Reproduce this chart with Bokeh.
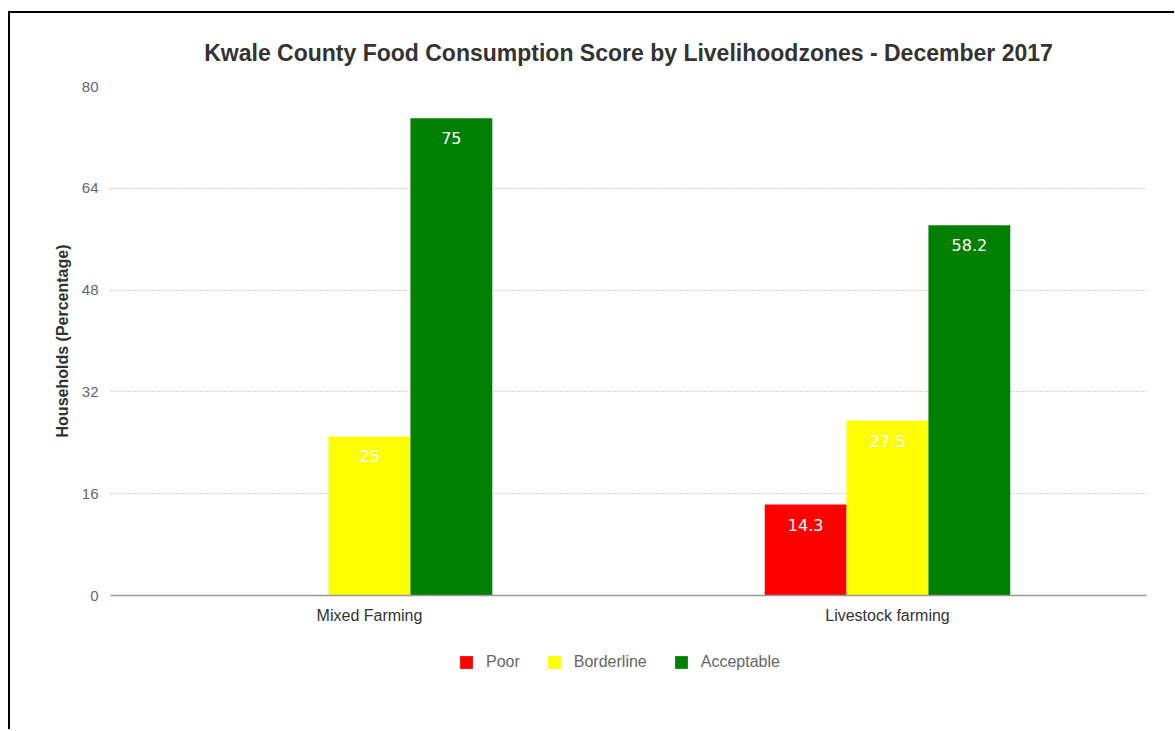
from bokeh.plotting import figure
from bokeh.layouts import column
from bokeh.models import ColumnDataSource, FactorRange, FixedTicker, Legend, LegendItem, Range1d
from bokeh.transform import dodge
from bokeh.core.properties import value
from bokeh.embed import file_html
from bokeh.resources import INLINE

title_text = "Kwale County Food Consumption Score by Livelihoodzones - December 2017"
zones = ["Mixed Farming", "Livestock farming"]
series_names = ["Poor", "Borderline", "Acceptable"]
poor = [0, 14.3]
borderline = [25, 27.5]
acceptable = [75, 58.2]
colors = ["#ff0000", "#ffff00", "#008000"]
y_ticks = [0, 16, 32, 48, 64, 80]

series_values = [poor, borderline, acceptable]
offsets = [-0.158, 0.0, 0.158]
bar_w = 0.158

p = figure(
    x_range=FactorRange(*zones),
    y_range=Range1d(0, 80),
    frame_width=1036, frame_height=509,
    output_backend="svg", toolbar_location=None,
    min_border_left=100, min_border_right=28, min_border_top=73, min_border_bottom=50,
)

p.title.text = title_text
p.title.align = "center"
p.title.text_font = "Liberation Sans"
p.title.text_font_size = "23px"
p.title.text_font_style = "bold"
p.title.text_color = "#333333"
p.title.standoff = 41

p.outline_line_color = None
p.xgrid.grid_line_color = None
p.ygrid.grid_line_color = "#a8a8a8"
p.ygrid.grid_line_dash = "1 2"
p.ygrid.grid_line_width = 1

p.yaxis.ticker = FixedTicker(ticks=y_ticks)
p.yaxis.axis_line_color = None
p.yaxis.major_tick_line_color = None
p.yaxis.minor_tick_line_color = None
p.yaxis.major_label_text_font = "Liberation Sans"
p.yaxis.major_label_text_font_size = "15px"
p.yaxis.major_label_text_color = "#666666"
p.yaxis.major_label_standoff = 6
p.yaxis.axis_label = "Households (Percentage)"
p.yaxis.axis_label_text_font = "Liberation Sans"
p.yaxis.axis_label_text_font_size = "16px"
p.yaxis.axis_label_text_font_style = "bold"
p.yaxis.axis_label_text_color = "#333333"
p.yaxis.axis_label_standoff = 8

p.xaxis.axis_line_color = "#999999"
p.xaxis.axis_line_width = 1.5
p.xaxis.major_tick_line_color = None
p.xaxis.minor_tick_line_color = None
p.xaxis.major_label_text_font = "Liberation Sans"
p.xaxis.major_label_text_font_size = "16px"
p.xaxis.major_label_text_color = "#333333"
p.xaxis.major_label_standoff = 5

# separate strip holding the legend (below the chart); its own range hides the bars
lf = figure(width=1164, height=84, output_backend="svg", toolbar_location=None,
            min_border_left=0, min_border_right=0, min_border_top=0, min_border_bottom=0,
            x_range=p.x_range, y_range=Range1d(1000, 1001))
lf.axis.visible = False
lf.grid.visible = False
lf.outline_line_color = None

items = []
for name, vals, col, off in zip(series_names, series_values, colors, offsets):
    src = ColumnDataSource(dict(
        zone=zones, val=vals,
        lab=[("%g" % v) if v > 0 else "" for v in vals],
    ))
    p.vbar(x=dodge("zone", off, range=p.x_range), top="val", width=bar_w,
           source=src, fill_color=col, line_color=None)
    p.text(x=dodge("zone", off, range=p.x_range), y="val", text="lab", source=src,
           text_color="white", text_font=value("DejaVu Sans"), text_font_size="16px",
           text_align="center", text_baseline="middle", y_offset=20)
    lr = lf.vbar(x=dodge("zone", off, range=p.x_range), top="val", width=bar_w,
                 source=src, fill_color=col, line_color=None)
    items.append(LegendItem(label=name, renderers=[lr]))

legend = Legend(items=items, orientation="horizontal", location=(348, 58),
                border_line_color=None, background_fill_alpha=0,
                label_text_font="Liberation Sans", label_text_font_size="16px",
                label_text_color="#666666", glyph_width=16, glyph_height=16,
                spacing=26, margin=0, padding=5, label_standoff=12)
lf.add_layout(legend, "center")

layout = column(p, lf, spacing=0,
                styles={"margin-left": "8px", "margin-top": "11px",
                        "border-left": "2px solid black", "border-top": "2px solid black"})

open("out.html", "w").write(file_html(layout, INLINE))
